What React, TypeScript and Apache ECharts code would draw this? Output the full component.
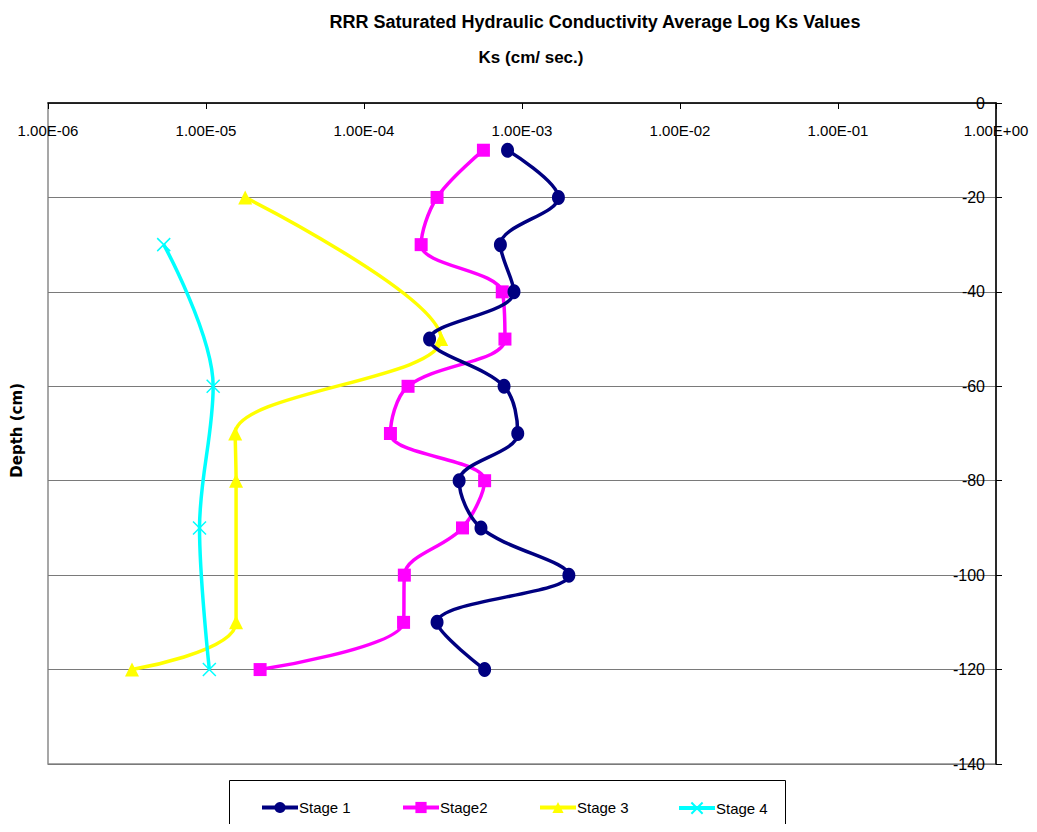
import React, { useEffect, useRef } from "react";
import * as echarts from "echarts";

const depths = [-10, -20, -30, -40, -50, -60, -70, -80, -90, -100, -110, -120];
const stage1 = [8.1e-4, 1.7e-3, 7.3e-4, 8.9e-4, 2.6e-4, 7.7e-4, 9.4e-4, 4.0e-4, 5.5e-4, 1.98e-3, 2.9e-4, 5.8e-4];
const stage2 = [5.7e-4, 2.9e-4, 2.3e-4, 7.5e-4, 7.8e-4, 1.9e-4, 1.47e-4, 5.8e-4, 4.2e-4, 1.8e-4, 1.78e-4, 2.2e-5];
const stage3Depths = [-20, -50, -70, -80, -110, -120];
const stage3 = [1.77e-5, 3.08e-4, 1.53e-5, 1.55e-5, 1.55e-5, 3.4e-6];
const stage4Depths = [-30, -60, -90, -120];
const stage4 = [5.4e-6, 1.11e-5, 9.1e-6, 1.05e-5];

const FONT = "'Liberation Sans', Arial, sans-serif";

function fmtX(v: number): string {
  const e = Math.round(Math.log10(v));
  const sign = e < 0 ? "-" : "+";
  const a = Math.abs(e);
  return "1.00E" + sign + (a < 10 ? "0" + a : String(a));
}

export default function App() {
  const ref = useRef<HTMLDivElement>(null);
  useEffect(() => {
    if (!ref.current) return;
    const chart = echarts.init(ref.current, null, { renderer: "svg" });
    const pair = (xs: number[], ys: number[]) => xs.map((x, i) => [x, ys[i]]);
    const lineSeries = (name: string, data: number[][], color: string, symbol: string, size: number | number[], extra: any = {}) => ({
      name,
      type: "line",
      smooth: 0.35,
      data,
      symbol,
      symbolSize: size,
      lineStyle: { color, width: 3.5 },
      itemStyle: { color, ...(extra.itemStyle || {}) },
      z: extra.z || 2,
    });
    const legendBase = {
      top: 795,
      itemWidth: 36,
      itemHeight: 14,
      itemGap: 0,
      lineStyle: { width: 4 },
      textStyle: { fontFamily: FONT, fontSize: 15, color: "#000", padding: [0, 0, 0, -4] },
    };
    chart.setOption({
      animation: false,
      backgroundColor: "#fff",
      title: [
        {
          text: "RRR Saturated Hydraulic Conductivity Average Log Ks Values",
          left: 590,
          top: 8,
          textAlign: "center",
          textStyle: { fontFamily: FONT, fontSize: 18, fontWeight: "bold", color: "#000" },
        },
        {
          text: "Ks (cm/ sec.)",
          left: 526,
          top: 44,
          textAlign: "center",
          textStyle: { fontFamily: FONT, fontSize: 17, fontWeight: "bold", color: "#000" },
        },
      ],
      grid: {
        left: 48,
        right: 41,
        top: 103,
        bottom: 68,
        show: true,
        borderColor: "#8a8a8a",
        borderWidth: 1.5,
      },
      xAxis: {
        type: "log",
        logBase: 10,
        min: 1e-6,
        max: 1,
        position: "top",
        axisLine: { show: true, onZero: false, lineStyle: { color: "#000", width: 1.5 } },
        axisTick: { show: true, inside: true, length: 6, lineStyle: { color: "#000" } },
        axisLabel: {
          inside: true,
          margin: 20,
          fontFamily: FONT,
          fontSize: 15,
          color: "#000",
          formatter: (v: number) => fmtX(v),
        },
        splitLine: { show: false },
      },
      yAxis: {
        type: "value",
        min: -140,
        max: 0,
        interval: 20,
        position: "right",
        axisLine: { show: true, onZero: false, lineStyle: { color: "#000", width: 1.5 } },
        axisTick: { show: true, inside: false, length: 6, lineStyle: { color: "#000" } },
        axisLabel: { inside: true, margin: 11, fontFamily: FONT, fontSize: 16, color: "#000" },
        splitLine: { show: true, lineStyle: { color: "#7a7a7a", width: 1.2 } },
      },
      graphic: [
        {
          type: "text",
          left: 9,
          top: 383,
          rotation: Math.PI / 2,
          style: {
            text: "Depth (cm)",
            fontFamily: "'DejaVu Sans', Verdana, sans-serif",
            fontSize: 15,
            fontWeight: "bold",
            fill: "#000",
          },
        },
        {
          type: "rect",
          shape: { x: 229.5, y: 780.5, width: 556, height: 70 },
          style: { fill: "none", stroke: "#000", lineWidth: 1 },
          z: 0,
        },
      ],
      legend: [
        { ...legendBase, left: 255, data: ["Stage 1"] },
        { ...legendBase, left: 396, data: ["Stage2"] },
        { ...legendBase, left: 533, data: ["Stage 3"] },
        { ...legendBase, left: 672, data: ["Stage 4"] },
      ],
      series: [
        lineSeries("Stage 1", pair(stage1, depths), "#000080", "circle", [13, 15], { z: 4 }),
        lineSeries("Stage2", pair(stage2, depths), "#FF00FF", "rect", 13, { z: 3 }),
        lineSeries("Stage 3", pair(stage3, stage3Depths), "#FFFF00", "triangle", 14, { z: 2 }),
        lineSeries("Stage 4", pair(stage4, stage4Depths), "#00FFFF", "path://M0,0L10,10M10,0L0,10", 13, {
          z: 2,
          itemStyle: { borderColor: "#00FFFF", borderWidth: 1.5, color: "none" },
        }),
      ],
    });
    return () => chart.dispose();
  }, []);
  return <div ref={ref} style={{ width: 1037, height: 832, margin: -8 }} />;
}
